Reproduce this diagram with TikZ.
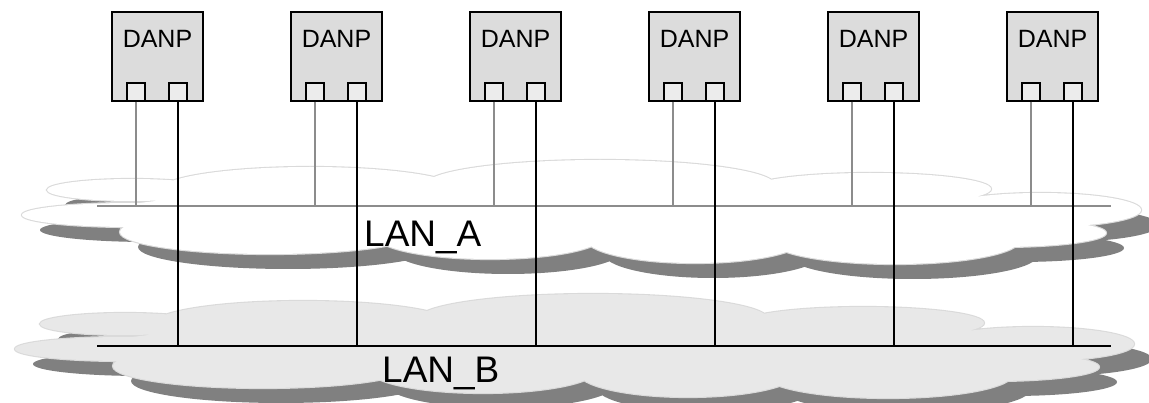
\documentclass[tikz,border=0pt]{standalone}
\usepackage{fontspec}
\setmainfont{Liberation Sans}
\usetikzlibrary{positioning}

\definecolor{boxgray}{RGB}{220,220,220}
\definecolor{portgray}{RGB}{236,236,236}
\definecolor{linkgray}{RGB}{140,140,140}
\definecolor{shadowgray}{RGB}{128,128,128}
\definecolor{cloudedge}{RGB}{218,218,218}
\definecolor{cloudb}{RGB}{232,232,232}

\def\danpw{91pt}
\def\danph{89pt}
\def\portsz{18pt}
\def\danpstep{179}

% lobes of one cloud: x/y of centre, x radius/y radius
\def\lobelist{132/190/85/11, 132/215/110/12, 310/190/150/23, 600/185/175/25,
  870/189/121/16, 1040/210/101/17, 1000/233/106/14, 270/232/150/22,
  490/235/115/24, 695/238/110/25, 895/240/125/24, 580/215/480/30}

\newcommand{\drawcloud}[2]{%
  \begin{scope}[shift={#2}]
    \fill[shadowgray] \foreach \cx/\cy/\rx/\ry in \lobelist
      {(\cx+18,\cy+15) ellipse [x radius=\rx pt, y radius=\ry pt]};
    \draw[cloudedge, line width=2.2pt] \foreach \cx/\cy/\rx/\ry in \lobelist
      {(\cx,\cy) ellipse [x radius=\rx pt, y radius=\ry pt]};
    \fill[#1] \foreach \cx/\cy/\rx/\ry in \lobelist
      {(\cx,\cy) ellipse [x radius=\rx pt, y radius=\ry pt]};
  \end{scope}}

\tikzset{
  danp/.style={draw=black, line width=1.3pt, fill=boxgray,
    minimum width=\danpw, minimum height=\danph, inner sep=0pt},
  port/.style={draw=black, line width=1.3pt, fill=portgray,
    minimum size=\portsz, inner sep=0pt},
  linka/.style={draw=linkgray, line width=1.3pt},
  linkb/.style={draw=black, line width=1.3pt},
  lanlabel/.style={inner sep=0pt, anchor=base west,
    font=\fontsize{37}{40}\selectfont},
}

\begin{document}
\begin{tikzpicture}[x=1pt, y=-1pt]
  \useasboundingbox (0,0) rectangle (1149,403);

  % the two networks
  \drawcloud{white}{(0,0)}
  \drawcloud{cloudb}{(-7,134)}

  \coordinate (lana-w) at (97,206);
  \coordinate (lana-e) at (1111,206);
  \coordinate (lanb-w) at (97,346);
  \coordinate (lanb-e) at (1111,346);
  \draw[linka, line width=2.2pt] (lana-w) -- (lana-e);
  \draw[linkb, line width=2.2pt] (lanb-w) -- (lanb-e);
  \node[lanlabel] (laba) at (364,247) {LAN\_A};
  \node[lanlabel] (labb) at (382,382) {LAN\_B};

  % doubly attached nodes
  \foreach \i in {1,...,6} {
    \pgfmathsetmacro\cx{157.5+\danpstep*(\i-1)}
    \node[danp] (danp\i) at (\cx,56.5) {};
    \node[anchor=base, inner sep=0pt, font=\fontsize{25}{27}\selectfont]
      (name\i) at (\cx,48) {DANP};
    \node[port] (pa\i) at (\cx-21.5,92) {};
    \node[port] (pb\i) at (\cx+20.5,92) {};
    \draw[linka] (pa\i.south) -- (pa\i.south |- lana-w);
    \draw[linkb] (pb\i.south) -- (pb\i.south |- lanb-w);
  }
\end{tikzpicture}
\end{document}
